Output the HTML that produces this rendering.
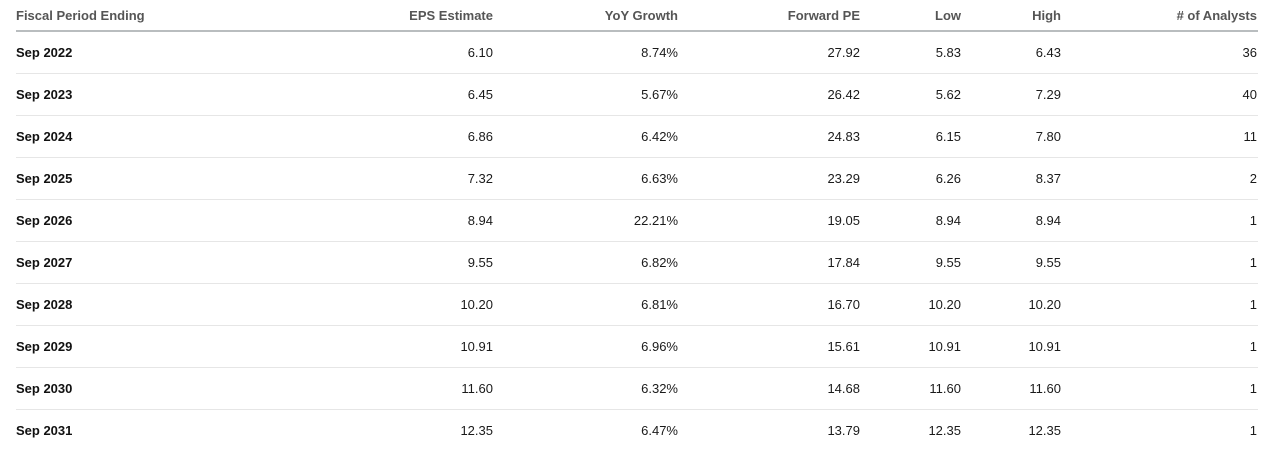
<!DOCTYPE html>
<html><head><meta charset="utf-8"><style>
body{margin:0;width:1280px;height:462px;background:#fff;font-family:"Liberation Sans",sans-serif;font-size:13px;color:#1a1a1a;position:relative;overflow:hidden}
.hdr{position:absolute;left:16px;width:1242px;top:0;height:30px;border-bottom:2px solid #b9bdbf}
.row{position:absolute;left:16px;width:1242px;height:41px;border-bottom:1px solid #e6e6e6}
.c{position:absolute;top:0;line-height:32px;white-space:nowrap}
.row .c{line-height:41px}
.hdr .c{font-weight:bold;color:#555}
.r{text-align:right}
.b{font-weight:bold;color:#111}
</style></head><body>
<div class="hdr">
<div class="c" style="left:0">Fiscal Period Ending</div>
<div class="c r" style="right:765px">EPS Estimate</div>
<div class="c r" style="right:580px">YoY Growth</div>
<div class="c r" style="right:398px">Forward PE</div>
<div class="c r" style="right:297px">Low</div>
<div class="c r" style="right:197px">High</div>
<div class="c r" style="right:1px"># of Analysts</div>
</div>
<div id="body"></div>
<script>
const periods=["Sep 2022","Sep 2023","Sep 2024","Sep 2025","Sep 2026","Sep 2027","Sep 2028","Sep 2029","Sep 2030","Sep 2031"];
const eps=["6.10","6.45","6.86","7.32","8.94","9.55","10.20","10.91","11.60","12.35"];
const yoy=["8.74%","5.67%","6.42%","6.63%","22.21%","6.82%","6.81%","6.96%","6.32%","6.47%"];
const fpe=["27.92","26.42","24.83","23.29","19.05","17.84","16.70","15.61","14.68","13.79"];
const low=["5.83","5.62","6.15","6.26","8.94","9.55","10.20","10.91","11.60","12.35"];
const high=["6.43","7.29","7.80","8.37","8.94","9.55","10.20","10.91","11.60","12.35"];
const analysts=["36","40","11","2","1","1","1","1","1","1"];
const cols=[[eps,765,'eps-cell'],[yoy,580,'yoy-cell'],[fpe,398,'forward-pe-cell'],[low,297,'low-cell'],[high,197,'high-cell'],[analysts,1,'analysts-cell']];
const body=document.getElementById('body');
periods.forEach((p,i)=>{
 const r=document.createElement('div');r.className='row';r.style.top=(32+42*i)+'px';
 
 
 if(i===periods.length-1)r.style.borderBottom='none';
 const f=document.createElement('div');f.className='c b';f.style.left='0';f.textContent=p;
 
 
 r.appendChild(f);
 cols.forEach(([arr,right,name])=>{
  const d=document.createElement('div');d.className='c r';d.style.right=right+'px';d.textContent=arr[i];
  
  
  r.appendChild(d);
 });
 body.appendChild(r);
});
</script>
</body></html>
